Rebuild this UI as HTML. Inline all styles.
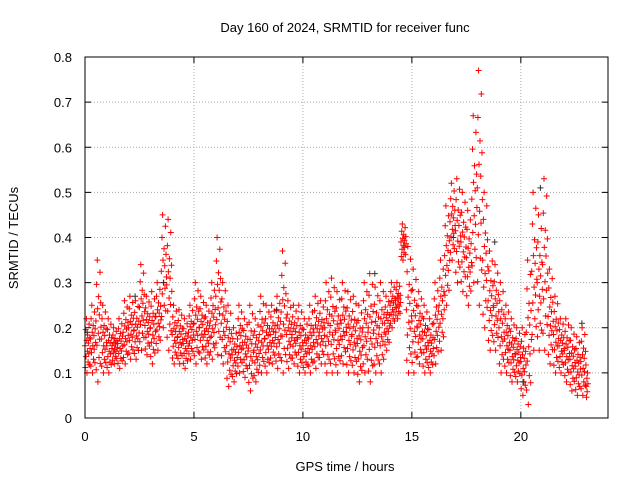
<!DOCTYPE html>
<html><head><meta charset="utf-8"><style>
body{margin:0;background:#fff;}
svg text{font-family:"Liberation Sans",sans-serif;font-size:13px;fill:#000;}
</style></head><body>
<svg id="chart" width="640" height="480">
<text x="345" y="32" text-anchor="middle">Day 160 of 2024, SRMTID for receiver func</text>
<text x="345" y="471" text-anchor="middle">GPS time / hours</text>
<text transform="translate(18,238) rotate(-90)" text-anchor="middle">SRMTID / TECUs</text>
<g id="grid"></g><g id="ticks"></g><g id="pts"></g>
<rect x="85" y="57" width="523" height="361" fill="none" stroke="#000"/>
</svg>
<script>
const xTicks=[0,5,10,15,20];
const yTicks=[0,0.1,0.2,0.3,0.4,0.5,0.6,0.7,0.8];
const hiVals=[0.22,0.25,0.35,0.25, 0.22,0.2,0.22,0.26, 0.27,0.26,0.34,0.27, 0.28,0.3,0.45,0.44, 0.25,0.24,0.22,0.25, 0.3,0.27,0.25,0.3, 0.4,0.3,0.25,0.2, 0.25,0.22,0.25,0.22, 0.27,0.25,0.25,0.27, 0.37,0.26,0.25,0.25, 0.22,0.25,0.27,0.26, 0.3,0.31,0.28,0.3, 0.28,0.27,0.25,0.3, 0.32,0.29,0.3,0.27, 0.3,0.3,0.43,0.38, 0.33,0.28,0.25,0.22, 0.3,0.35,0.47,0.52, 0.53,0.5,0.46,0.67, 0.77,0.5,0.37,0.34, 0.3,0.25,0.22,0.2, 0.2,0.35,0.5,0.45, 0.53,0.33,0.27,0.22, 0.22,0.2,0.18,0.2, 0.1];
const loVals=[0.1,0.1,0.08,0.1, 0.1,0.12,0.11,0.12, 0.13,0.13,0.15,0.14, 0.12,0.15,0.2,0.15, 0.12,0.12,0.11,0.13, 0.12,0.13,0.12,0.13, 0.14,0.12,0.07,0.08, 0.1,0.09,0.06,0.08, 0.1,0.1,0.12,0.11, 0.1,0.11,0.12,0.1, 0.1,0.1,0.11,0.12, 0.1,0.1,0.1,0.12, 0.1,0.1,0.08,0.1, 0.08,0.1,0.1,0.15, 0.2,0.22,0.35,0.1, 0.1,0.12,0.1,0.1, 0.12,0.15,0.25,0.35, 0.3,0.28,0.25,0.3, 0.25,0.2,0.15,0.15, 0.1,0.1,0.08,0.08, 0.05,0.03,0.15,0.15, 0.15,0.12,0.1,0.1, 0.08,0.06,0.05,0.05, 0.04];
const binHours=0.25;
const blackTimes=[0.1,2.3,3.6,8.8,13.3,16.9,18.8,20.1,20.9,22.8];
const blackVals=[0.19,0.27,0.3,0.24,0.32,0.4,0.39,0.08,0.51,0.21];
const X=t=>85+t*(523/24), Y=v=>418-v*(361/0.8);
const ns="http://www.w3.org/2000/svg";
const grid=document.getElementById('grid'), ticks=document.getElementById('ticks'), pts=document.getElementById('pts');
function mk(tag,attrs,parent){const e=document.createElementNS(ns,tag);for(const k in attrs)e.setAttribute(k,attrs[k]);parent.appendChild(e);return e;}
xTicks.forEach(t=>{
  if(t>0){const g=mk('line',{x1:X(t),x2:X(t),y1:57,y2:418,stroke:'#aaa','stroke-dasharray':'1,2'},grid);
  
  }
  mk('line',{x1:X(t),x2:X(t),y1:418,y2:412,stroke:'#000'},ticks);
  mk('line',{x1:X(t),x2:X(t),y1:57,y2:63,stroke:'#000'},ticks);
  const l=mk('text',{x:X(t),y:441,'text-anchor':'middle'},ticks);l.textContent=t;
  
  
});
yTicks.forEach(v=>{
  if(v>0&&v<0.8){const g=mk('line',{x1:85,x2:608,y1:Y(v),y2:Y(v),stroke:'#aaa','stroke-dasharray':'1,2'},grid);
  
  }
  mk('line',{x1:85,x2:91,y1:Y(v),y2:Y(v),stroke:'#000'},ticks);
  mk('line',{x1:608,x2:602,y1:Y(v),y2:Y(v),stroke:'#000'},ticks);
  const l=mk('text',{x:72,y:Y(v)+5,'text-anchor':'end'},ticks);l.textContent=v===0?'0':v.toFixed(1);
  
  
});
const frac=[0.5,0.1,0.8,0.3,1,0.6,0,0.4,0.7,0.2,0.55,0.35,0.9,0.15,0.65,0.45];
let d='';
const plus=(x,y)=>`M${(x-3).toFixed(1)} ${y.toFixed(1)}h6M${x.toFixed(1)} ${(y-3).toFixed(1)}v6`;
for(let i=0;i<hiVals.length;i++){
  const n=i===hiVals.length-1?6:frac.length;
  for(let k=0;k<n;k++){
    const t=i*binHours+k*binHours/frac.length;
    const v=loVals[i]+(hiVals[i]-loVals[i])*frac[k];
    d+=plus(X(t),Y(v));
  }
}
const p=mk('path',{d:d,stroke:'#f00','stroke-width':1,fill:'none'},pts);


let db='';
blackTimes.forEach((t,i)=>{db+=plus(X(t),Y(blackVals[i]));});
const pb=mk('path',{d:db,stroke:'#333','stroke-width':1,fill:'none'},pts);


</script>
</body></html>
